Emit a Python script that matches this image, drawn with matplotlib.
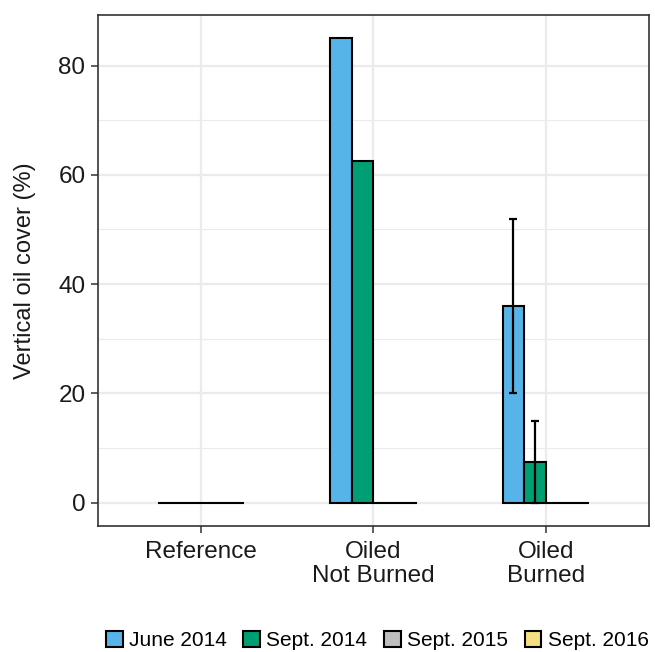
import numpy as np
import matplotlib
matplotlib.use("Agg")
import matplotlib.pyplot as plt
from matplotlib.patches import Patch

plt.rcParams['font.family'] = ['Liberation Sans', 'DejaVu Sans']

sites = ["Reference", "Oiled\nNot Burned", "Oiled\nBurned"]
seasons = ["June 2014", "Sept. 2014", "Sept. 2015", "Sept. 2016"]
colors = ["#56B4E9", "#009E73", "#BEBEBE", "#F5E081"]

# mean vertical oil cover (%) per site, one list per season
june_2014 = [0, 85, 36]
sept_2014 = [0, 62.5, 7.5]
sept_2015 = [0, 0, 0]
sept_2016 = [0, 0, 0]
# standard error per site
june_2014_se = [0, 0, 16]
sept_2014_se = [0, 0, 7.5]
sept_2015_se = [0, 0, 0]
sept_2016_se = [0, 0, 0]

values = [june_2014, sept_2014, sept_2015, sept_2016]
errors = [june_2014_se, sept_2014_se, sept_2015_se, sept_2016_se]

fig = plt.figure(figsize=(6.55, 6.52), dpi=100)
ax = fig.add_axes([0.1496, 0.1933, 0.8412, 0.7837])

x = np.arange(1, len(sites) + 1)
width = 0.125
for i, (vals, errs) in enumerate(zip(values, errors)):
    pos = x + (i - 1.5) * width
    ax.bar(pos, vals, width=width, color=colors[i], edgecolor="black",
           linewidth=1.5, zorder=2)
    vals = np.array(vals, dtype=float)
    errs = np.array(errs, dtype=float)
    m = errs > 0
    if m.any():
        ax.errorbar(pos[m], vals[m], yerr=errs[m], fmt="none", ecolor="black",
                    elinewidth=1.6, capsize=2.6, capthick=1.6, zorder=3)

ax.set_xlim(0.4, 3.6)
ax.set_ylim(-4.25, 89.25)
ax.set_xticks(x)
ax.set_xticklabels(sites, fontsize=17.5, color="#1a1a1a", linespacing=1.08)
ax.set_yticks([0, 20, 40, 60, 80])
ax.set_yticks([10, 30, 50, 70], minor=True)
ax.tick_params(axis="y", labelsize=17.5, labelcolor="#1a1a1a", pad=4)
ax.tick_params(axis="x", pad=6)
ax.tick_params(axis="both", which="major", length=5, width=1.1, color="#333333")
ax.tick_params(axis="y", which="minor", length=0)
ax.set_ylabel("Vertical oil cover (%)", fontsize=17, color="#1a1a1a", labelpad=16)

ax.grid(which="major", color="#EBEBEB", linewidth=1.6, zorder=0)
ax.grid(which="minor", axis="y", color="#EBEBEB", linewidth=0.8, zorder=0)
ax.set_axisbelow(True)
for s in ax.spines.values():
    s.set_color("#333333")
    s.set_linewidth(1.2)

handles = [Patch(facecolor=c, edgecolor="black", linewidth=1.5) for c in colors]
fig.legend(handles, seasons, loc="center", bbox_to_anchor=(0.576, 0.018),
           ncol=4, frameon=False, fontsize=15, handlelength=0.8, handleheight=0.8,
           handletextpad=0.3, columnspacing=0.8, borderpad=0, borderaxespad=0)

fig.savefig("out.png", dpi=100)
